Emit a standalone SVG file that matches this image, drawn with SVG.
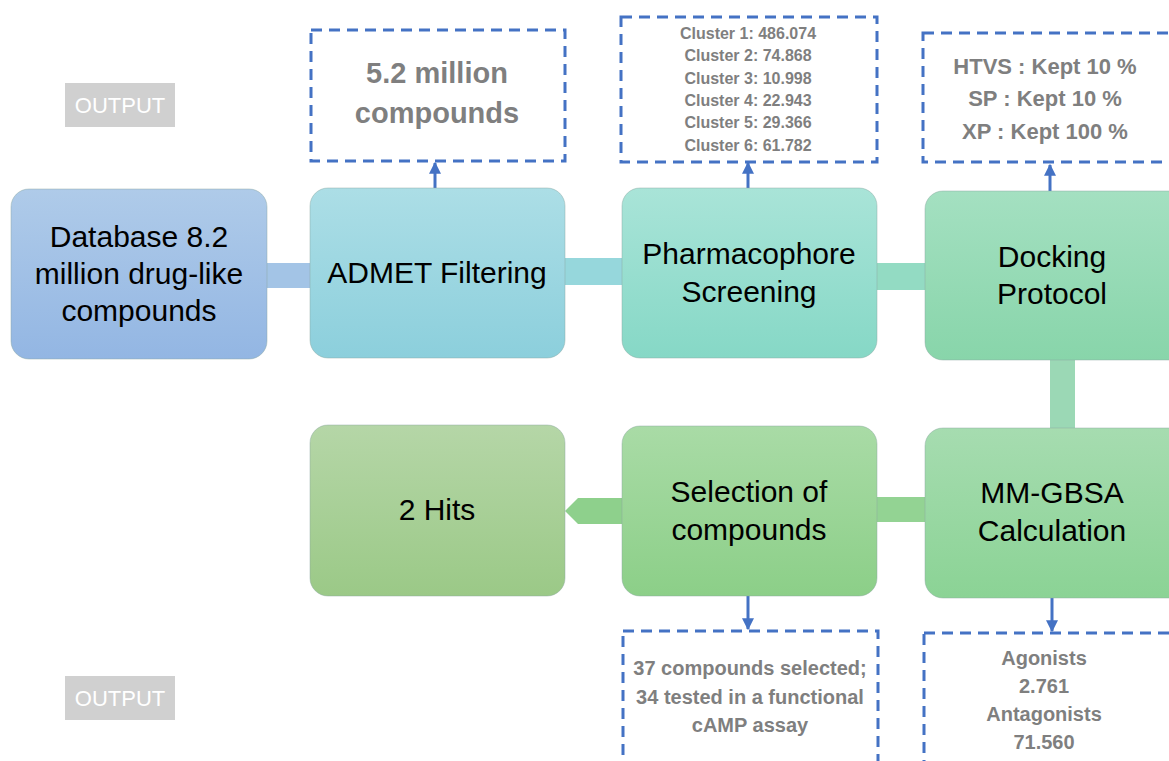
<svg xmlns="http://www.w3.org/2000/svg" width="1169" height="761" viewBox="0 0 1169 761">
<defs>
<linearGradient id="gDb" x1="0" y1="0" x2="0" y2="1"><stop offset="0" stop-color="#afcbe9"/><stop offset="1" stop-color="#93b6e3"/></linearGradient>
<linearGradient id="gAd" x1="0" y1="0" x2="0" y2="1"><stop offset="0" stop-color="#acdee6"/><stop offset="1" stop-color="#8ccfdc"/></linearGradient>
<linearGradient id="gPh" x1="0" y1="0" x2="0" y2="1"><stop offset="0" stop-color="#a9e4d8"/><stop offset="1" stop-color="#86d8c6"/></linearGradient>
<linearGradient id="gDo" x1="0" y1="0" x2="0" y2="1"><stop offset="0" stop-color="#a4e0c1"/><stop offset="1" stop-color="#88d5aa"/></linearGradient>
<linearGradient id="gMm" x1="0" y1="0" x2="0" y2="1"><stop offset="0" stop-color="#a6dcb0"/><stop offset="1" stop-color="#8bd395"/></linearGradient>
<linearGradient id="gSe" x1="0" y1="0" x2="0" y2="1"><stop offset="0" stop-color="#a9dba6"/><stop offset="1" stop-color="#8ccf88"/></linearGradient>
<linearGradient id="gHi" x1="0" y1="0" x2="0" y2="1"><stop offset="0" stop-color="#b5d6a7"/><stop offset="1" stop-color="#9bc987"/></linearGradient>
<marker id="ah" viewBox="0 0 10 10" refX="9" refY="5" markerWidth="4" markerHeight="4" orient="auto"><path d="M0,0 L10,5 L0,10 z" fill="#4472c4"/></marker>
<style>
.node{stroke:#8aa6a0;stroke-opacity:0.45;stroke-width:1}
.nt{font-family:"Liberation Sans",Arial,sans-serif;font-size:30px;fill:#000;text-anchor:middle}
.out{fill:#fff;stroke:#4472c4;stroke-width:3;stroke-dasharray:11 7}
.ot{font-family:"Liberation Sans",Arial,sans-serif;font-weight:bold;fill:#7f7f7f;text-anchor:middle}
.arr{stroke:#4472c4;stroke-width:3;fill:none;marker-end:url(#ah)}
.lbl{fill:#d0d0d0}
.lt{font-family:"Liberation Sans",Arial,sans-serif;font-size:22px;fill:#fff;text-anchor:middle}
</style>
</defs>
<rect width="1169" height="761" fill="#fff"/>

<g id="connectors">
<rect x="265" y="263" width="48" height="25" fill="#a3c4e6"/>
<rect x="563" y="258" width="62" height="27" fill="#96d7dc"/>
<rect x="875" y="263" width="52" height="27" fill="#93dbc3"/>
<rect x="1050" y="358" width="25" height="72" fill="#9bd8b5"/>
<rect x="875" y="497" width="52" height="25" fill="#93d393"/>
<polygon points="578,498 565,511 578,524 627,524 627,498" fill="#8ed08c"/>
<line class="arr" x1="435" y1="188" x2="435" y2="163"/>
<line class="arr" x1="748" y1="188" x2="748" y2="163"/>
<line class="arr" x1="1050" y1="191" x2="1050" y2="165"/>
<line class="arr" x1="748" y1="596" x2="748" y2="629"/>
<line class="arr" x1="1052" y1="598" x2="1052" y2="631"/>
</g>

<g id="n-database"><rect class="node" x="11" y="189" width="256" height="170" rx="18" fill="url(#gDb)"/>
<text class="nt" x="139" y="247">Database 8.2</text><text class="nt" x="139" y="284">million drug-like</text><text class="nt" x="139" y="321">compounds</text></g>
<g id="n-admet"><rect class="node" x="310" y="188" width="255" height="170" rx="18" fill="url(#gAd)"/>
<text class="nt" x="437" y="283">ADMET Filtering</text></g>
<g id="n-pharma"><rect class="node" x="622" y="188" width="255" height="170" rx="18" fill="url(#gPh)"/>
<text class="nt" x="749" y="264">Pharmacophore</text><text class="nt" x="749" y="302">Screening</text></g>
<g id="n-docking"><rect class="node" x="925" y="191" width="270" height="169" rx="18" fill="url(#gDo)"/>
<text class="nt" x="1052" y="267">Docking</text><text class="nt" x="1052" y="304">Protocol</text></g>
<g id="n-mmgbsa"><rect class="node" x="925" y="428" width="270" height="170" rx="18" fill="url(#gMm)"/>
<text class="nt" x="1052" y="503">MM-GBSA</text><text class="nt" x="1052" y="541">Calculation</text></g>
<g id="n-selection"><rect class="node" x="622" y="426" width="255" height="170" rx="18" fill="url(#gSe)"/>
<text class="nt" x="749" y="502">Selection of</text><text class="nt" x="749" y="540">compounds</text></g>
<g id="n-hits"><rect class="node" x="310" y="425" width="255" height="171" rx="18" fill="url(#gHi)"/>
<text class="nt" x="437" y="520">2 Hits</text></g>

<g id="o-admet"><rect class="out" x="311" y="30" width="254" height="131"/>
<text class="ot" font-size="29" x="437" y="83">5.2 million</text><text class="ot" font-size="29" x="437" y="123">compounds</text></g>
<g id="o-pharma"><rect class="out" x="621" y="17" width="256" height="145"/>
<g font-size="16"><text class="ot" x="748" y="39">Cluster 1: 486.074</text><text class="ot" x="748" y="61">Cluster 2: 74.868</text><text class="ot" x="748" y="84">Cluster 3: 10.998</text><text class="ot" x="748" y="106">Cluster 4: 22.943</text><text class="ot" x="748" y="128">Cluster 5: 29.366</text><text class="ot" x="748" y="151">Cluster 6: 61.782</text></g></g>
<g id="o-docking"><rect class="out" x="923" y="33" width="280" height="129"/>
<g font-size="22"><text class="ot" x="1045" y="74">HTVS : Kept 10 %</text><text class="ot" x="1045" y="106">SP : Kept 10 %</text><text class="ot" x="1045" y="139">XP : Kept 100 %</text></g></g>
<g id="o-selection"><rect class="out" x="623" y="631" width="255" height="140"/>
<g font-size="20"><text class="ot" x="750" y="675">37 compounds selected;</text><text class="ot" x="750" y="704">34 tested in a functional</text><text class="ot" x="750" y="732">cAMP assay</text></g></g>
<g id="o-mmgbsa"><rect class="out" x="924" y="633" width="280" height="140"/>
<g font-size="20"><text class="ot" x="1044" y="665">Agonists</text><text class="ot" x="1044" y="693">2.761</text><text class="ot" x="1044" y="721">Antagonists</text><text class="ot" x="1044" y="749">71.560</text></g></g>

<g id="label-output-top"><rect class="lbl" x="65" y="83" width="110" height="44"/><text class="lt" x="120" y="113">OUTPUT</text></g>
<g id="label-output-bottom"><rect class="lbl" x="65" y="676" width="110" height="44"/><text class="lt" x="120" y="706">OUTPUT</text></g>
</svg>
